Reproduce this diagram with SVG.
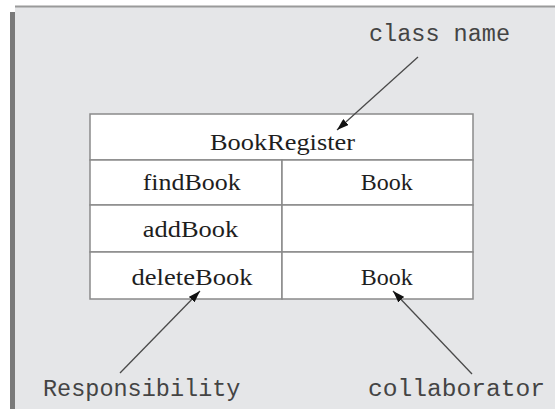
<svg xmlns="http://www.w3.org/2000/svg" width="555" height="409" viewBox="0 0 555 409">
<style>
.cell{fill:#fff;stroke:#8a8a8a;stroke-width:1.5}
.srf{font-family:"Liberation Serif","Times New Roman",serif;font-size:24px;fill:#1e1e1e;text-anchor:middle}
.mono{font-family:"Liberation Mono","Courier New",monospace;font-size:23.5px;fill:#444}
.conn{stroke:#4a4a4a;stroke-width:1.3;fill:none}
</style>
<defs>
<marker id="ah" viewBox="0 0 12 8" refX="12" refY="4" markerWidth="12" markerHeight="8" markerUnits="userSpaceOnUse" orient="auto">
<path d="M0,0 L12,4 L0,8 Z" fill="#111"/>
</marker>
</defs>
<rect x="0" y="0" width="555" height="409" fill="#fff"/>
<rect x="15" y="7" width="540" height="402" fill="#e5e6e8"/>
<line x1="15" y1="6.5" x2="555" y2="6.5" stroke="#9a9a9a" stroke-width="2"/>
<rect x="10" y="12" width="5" height="397" fill="#7a7a7a"/>
<g id="crc-card">
<g id="class-name">
<rect class="cell" x="90" y="114" width="383" height="46"/>
<text class="srf" x="282.5" y="150" textLength="145" lengthAdjust="spacingAndGlyphs">BookRegister</text>
</g>
<g id="row-findBook">
<rect class="cell" x="90" y="160" width="192" height="45"/>
<rect class="cell" x="282" y="160" width="191" height="45"/>
<text class="srf" x="191.7" y="189.5" textLength="98" lengthAdjust="spacingAndGlyphs">findBook</text>
<text class="srf" x="386.7" y="189.5" textLength="52" lengthAdjust="spacingAndGlyphs">Book</text>
</g>
<g id="row-addBook">
<rect class="cell" x="90" y="205" width="192" height="47"/>
<rect class="cell" x="282" y="205" width="191" height="47"/>
<text class="srf" x="190.5" y="237" textLength="95.5" lengthAdjust="spacingAndGlyphs">addBook</text>
</g>
<g id="row-deleteBook">
<rect class="cell" x="90" y="252" width="192" height="47"/>
<rect class="cell" x="282" y="252" width="191" height="47"/>
<text class="srf" x="192" y="285" textLength="121" lengthAdjust="spacingAndGlyphs">deleteBook</text>
<text class="srf" x="386.7" y="285" textLength="52" lengthAdjust="spacingAndGlyphs">Book</text>
</g>
</g>
<g id="label-class-name"><text class="mono" x="369" y="41">class name</text></g>
<g id="label-responsibility"><text class="mono" x="43" y="396">Responsibility</text></g>
<g id="label-collaborator"><text class="mono" x="368" y="396" textLength="177" lengthAdjust="spacingAndGlyphs">collaborator</text></g>
<g id="connectors">
<line class="conn" x1="418" y1="57" x2="337" y2="130" marker-end="url(#ah)"/>
<line class="conn" x1="120" y1="373" x2="200" y2="291" marker-end="url(#ah)"/>
<line class="conn" x1="472" y1="374" x2="393" y2="291" marker-end="url(#ah)"/>
</g>
</svg>
